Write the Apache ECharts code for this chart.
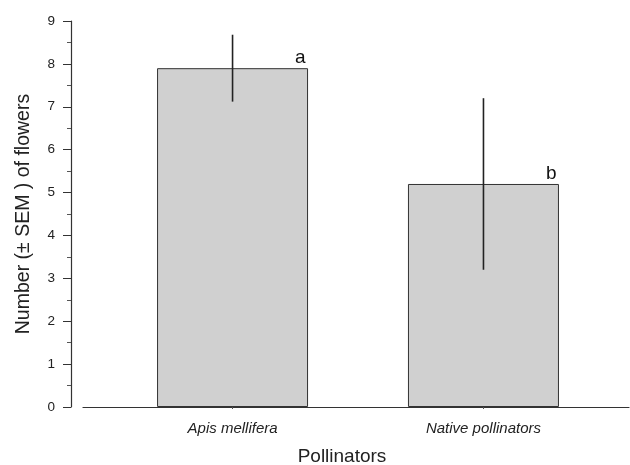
<!DOCTYPE html>
<html>
<head>
<meta charset="utf-8">
<script src="https://cdn.jsdelivr.net/npm/echarts@6/dist/echarts.min.js"></script>
<style>
  html, body { margin: 0; padding: 0; background: #fff; }
  #chart { width: 630px; height: 465px; }
</style>
</head>
<body>
<div id="chart"></div>
<script>
// data
var categories = ['Apis mellifera', 'Native pollinators']
var positions = [1, 2]
var means = [7.9, 5.2]
var sem = [0.78, 2.0]
var letters = ['a', 'b']

var chart = echarts.init(document.getElementById('chart'))

var barData = positions.map(function (p, i) { return [p, means[i]] })
var errData = positions.map(function (p, i) {
  return [p, means[i] - sem[i], means[i] + sem[i], means[i], i]
})

chart.setOption({
  animation: false,
  grid: { left: 83, right: 1, top: 21, bottom: 58, outerBoundsMode: 'none', containLabel: false },
  xAxis: {
    type: 'value',
    min: 0.404,
    max: 2.58,
    name: 'Pollinators',
    nameLocation: 'middle',
    nameGap: 40,
    nameTextStyle: {
      fontFamily: 'Liberation Sans', fontSize: 19, color: '#222',
      padding: [0, 28, 0, 0]
    },
    splitLine: { show: false },
    axisLine: { show: true, lineStyle: { color: '#333', width: 1.2 } },
    axisTick: { show: true, customValues: positions, length: 2, lineStyle: { color: '#555' } },
    axisLabel: {
      customValues: positions,
      formatter: function (v) { return categories[positions.indexOf(v)] || '' },
      fontFamily: 'Liberation Sans',
      fontStyle: 'italic',
      fontSize: 15,
      color: '#222',
      margin: 14
    }
  },
  yAxis: {
    type: 'value',
    min: 0,
    max: 9,
    interval: 1,
    offset: 12,
    name: 'Number (± SEM ) of flowers',
    nameLocation: 'middle',
    nameGap: 37,
    nameTextStyle: { fontFamily: 'Liberation Sans', fontSize: 19.5, color: '#222' },
    splitLine: { show: false },
    axisLine: { show: true, lineStyle: { color: '#333', width: 1.2 } },
    axisTick: { show: true, length: 8, lineStyle: { color: '#333' } },
    minorTick: { show: true, splitNumber: 2, length: 4, lineStyle: { color: '#555' } },
    axisLabel: { fontFamily: 'Liberation Sans', fontSize: 13.5, color: '#222', margin: 16 }
  },
  series: [
    {
      type: 'bar',
      data: barData,
      barWidth: 151,
      itemStyle: { color: '#d0d0d0', borderColor: '#333', borderWidth: 1 }
    },
    {
      type: 'custom',
      data: errData,
      z: 5,
      renderItem: function (params, api) {
        var x = api.value(0)
        var lo = api.coord([x, api.value(1)])
        var hi = api.coord([x, api.value(2)])
        var corner = api.coord([x + 0.27, api.value(3)])
        return {
          type: 'group',
          children: [
            {
              type: 'line',
              shape: { x1: lo[0], y1: lo[1], x2: hi[0], y2: hi[1] },
              style: { stroke: '#222', lineWidth: 1.6 }
            },
            {
              type: 'text',
              x: corner[0],
              y: corner[1] - 1,
              style: {
                text: letters[api.value(4)],
                fontFamily: 'Liberation Sans',
                fontSize: 19,
                fill: '#111',
                align: 'center',
                verticalAlign: 'bottom'
              }
            }
          ]
        }
      }
    }
  ]
})
</script>
</body>
</html>
